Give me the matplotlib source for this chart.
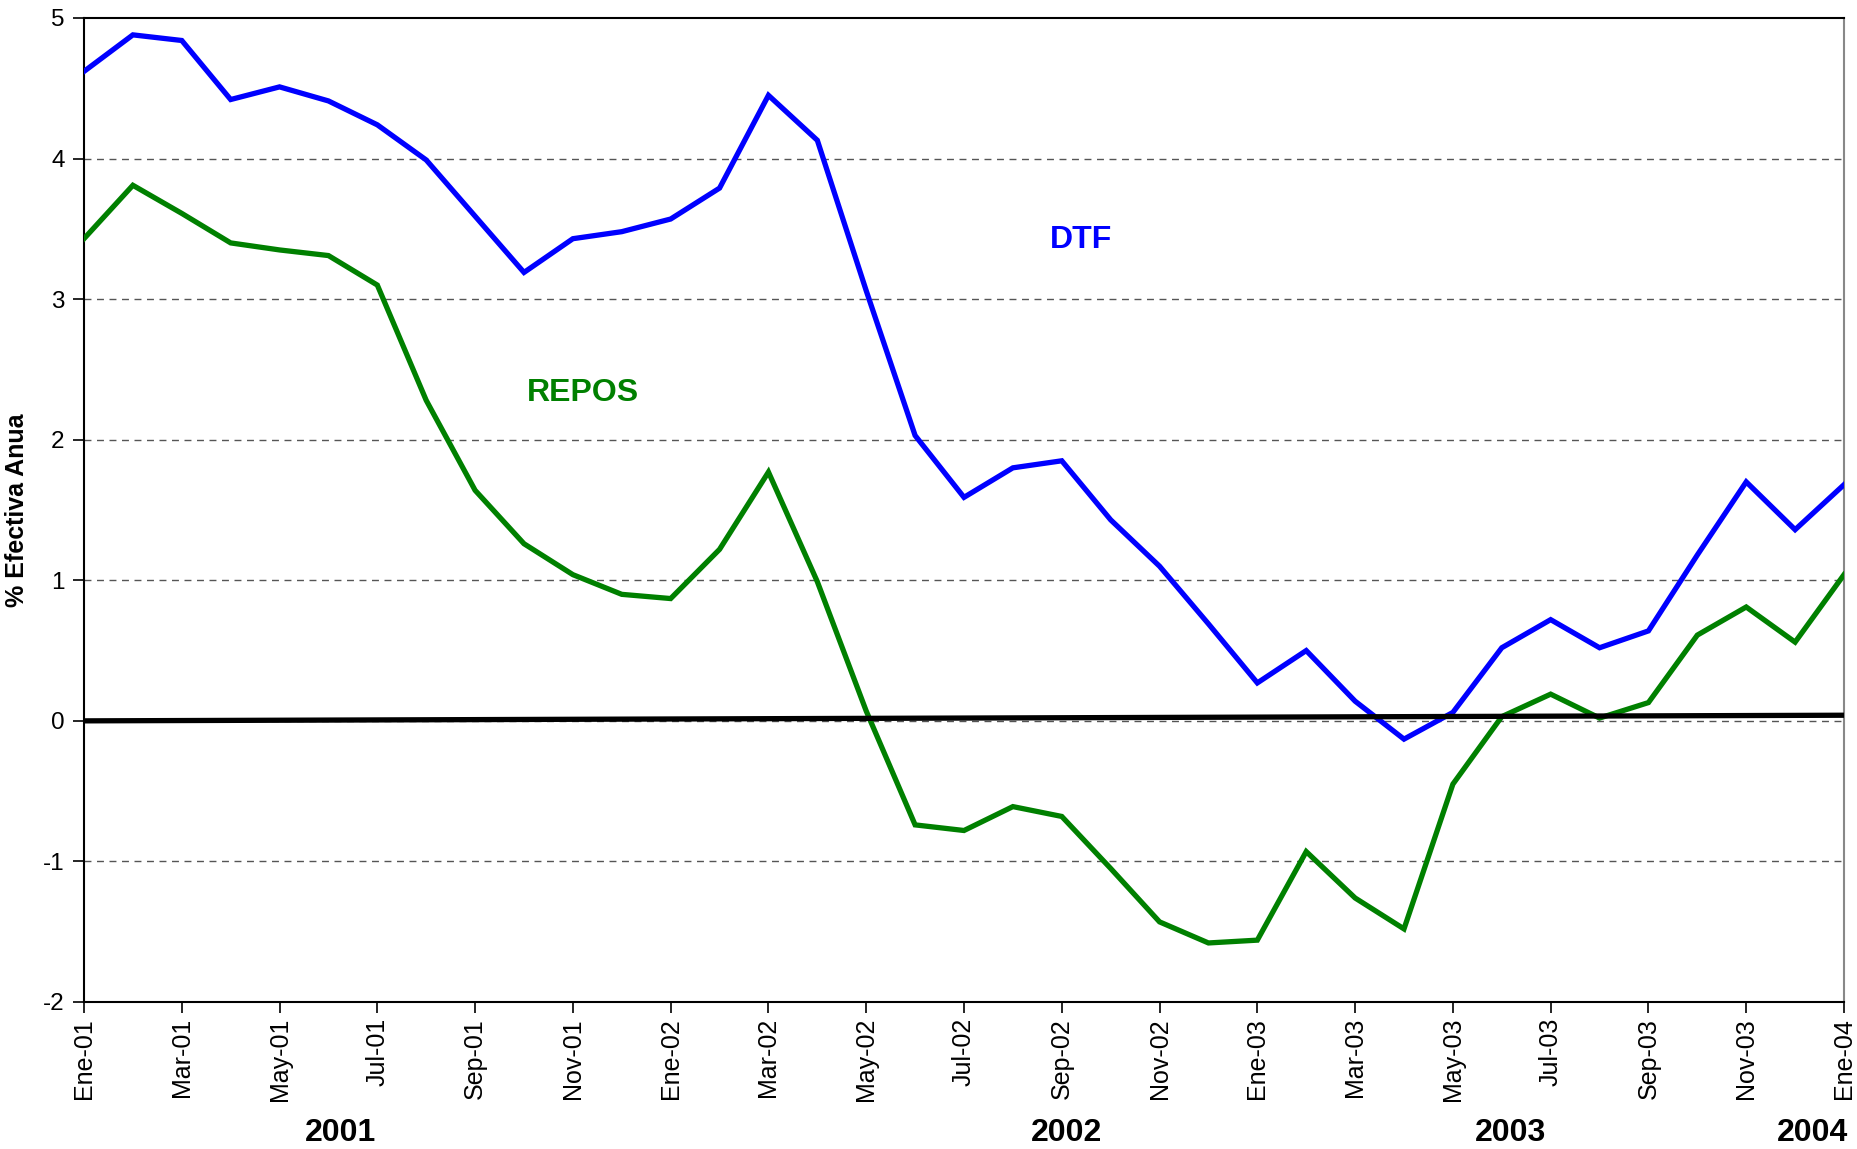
import matplotlib
matplotlib.use("Agg")
import matplotlib.pyplot as plt
import numpy as np

months = ["Ene-01","Feb-01","Mar-01","Abr-01","May-01","Jun-01","Jul-01","Ago-01","Sep-01","Oct-01","Nov-01","Dic-01",
          "Ene-02","Feb-02","Mar-02","Abr-02","May-02","Jun-02","Jul-02","Ago-02","Sep-02","Oct-02","Nov-02","Dic-02",
          "Ene-03","Feb-03","Mar-03","Abr-03","May-03","Jun-03","Jul-03","Ago-03","Sep-03","Oct-03","Nov-03","Dic-03",
          "Ene-04"]

dtf = [4.62, 4.88, 4.84, 4.42, 4.51, 4.41, 4.24, 3.99, 3.59, 3.19, 3.43, 3.48,
       3.57, 3.79, 4.45, 4.13, 3.06, 2.03, 1.59, 1.80, 1.85, 1.43, 1.10, 0.69,
       0.27, 0.50, 0.14, -0.13, 0.06, 0.52, 0.72, 0.52, 0.64, 1.18, 1.70, 1.36,
       1.68]

repos = [3.43, 3.81, 3.61, 3.40, 3.35, 3.31, 3.10, 2.28, 1.64, 1.26, 1.04, 0.90,
         0.87, 1.22, 1.77, 0.99, 0.07, -0.74, -0.78, -0.61, -0.68, -1.05, -1.43, -1.58,
         -1.56, -0.93, -1.26, -1.48, -0.45, 0.03, 0.19, 0.02, 0.13, 0.61, 0.81, 0.56,
         1.04]

ref_line_x = [0, 36]
ref_line_y = [0.0, 0.04]

years = ["2001", "2002", "2003", "2004"]

yticks = [-2, -1, 0, 1, 2, 3, 4, 5]

plt.rcParams['font.family'] = ['Liberation Sans', 'DejaVu Sans']

fig = plt.figure(figsize=(18.57, 11.49), dpi=100)
ax = fig.add_axes([84/1857, 1 - 1002/1149, (1844-84)/1857, (1002-18)/1149])

x = np.arange(len(months))
for yv in yticks:
    if yv not in (5, -2):
        ax.axhline(yv, color='#555555', lw=1.0, ls=(0, (5, 4)), zorder=1)

ax.plot(x, dtf, color='#0000FF', lw=3.8, zorder=3, solid_joinstyle='miter')
ax.plot(x, repos, color='#008000', lw=3.8, zorder=3, solid_joinstyle='miter')
ax.plot(ref_line_x, ref_line_y, color='black', lw=3.8, zorder=4)

ax.set_xlim(0, 36)
ax.set_ylim(-2, 5)
ax.set_yticks(yticks)
ax.set_yticklabels([str(v) for v in yticks], fontsize=17.5)
ax.set_xticks(x[::2])
ax.set_xticklabels(months[::2], rotation=90, fontsize=18)
ax.tick_params(axis='both', direction='out', length=8, width=1.2, colors='black')
ax.tick_params(axis='y', pad=6)

for s in ['left', 'bottom', 'top']:
    ax.spines[s].set_color('black')
    ax.spines[s].set_linewidth(1.5)
ax.spines['right'].set_color('#888888')
ax.spines['right'].set_linewidth(1.5)

ax.set_ylabel('% Efectiva Anua', fontsize=18, fontweight='bold', labelpad=10)

# year labels
for lab, px in zip(years, [341, 1066, 1510, 1812]):
    fig.text(px/1857, 1 - 1133/1149, lab, fontsize=23, fontweight='bold', ha='center', va='center')

ax.text(20.4, 3.42, 'DTF', color='#0000FF', fontsize=23, fontweight='bold', ha='center', va='center')
ax.text(10.2, 2.33, 'REPOS', color='#008000', fontsize=23, fontweight='bold', ha='center', va='center')

fig.savefig('out.png', dpi=100)
